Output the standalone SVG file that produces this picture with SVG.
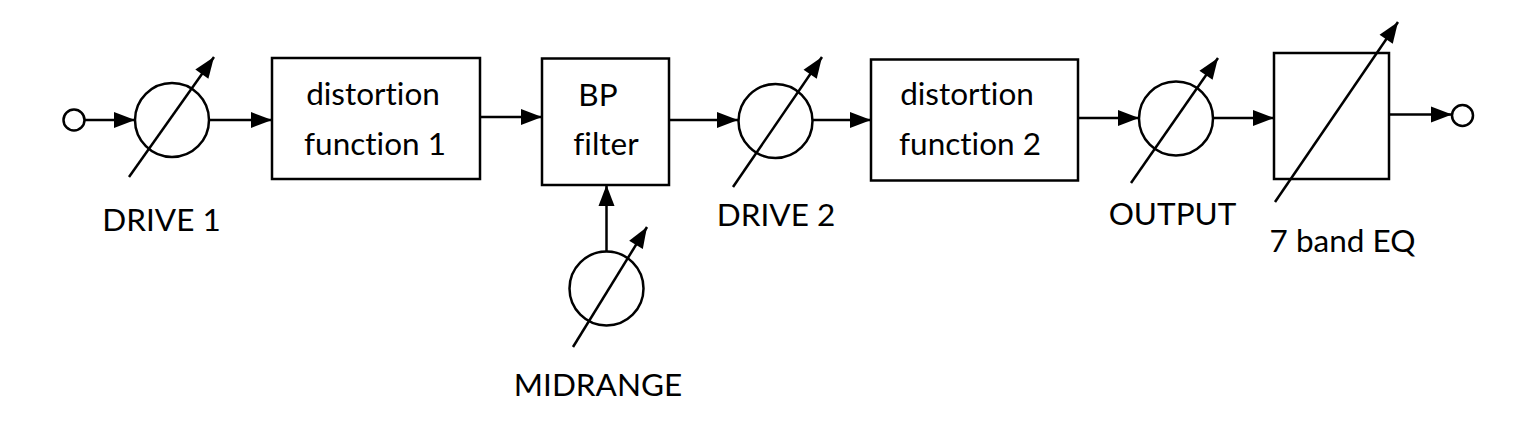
<svg xmlns="http://www.w3.org/2000/svg" width="1532" height="434" viewBox="0 0 1532 434">
  <style>
    .shape { fill: #ffffff; stroke: #000000; stroke-width: 2.5; }
    .wire { fill: none; stroke: #000000; stroke-width: 2.5; }
    .lbl { font-family: Lato, "Liberation Sans", sans-serif; font-size: 31.5px; fill: #000000; text-anchor: middle; font-variant-ligatures: none; font-feature-settings: "liga" 0, "clig" 0; }
  </style>
  <defs>
    <marker id="ah" markerUnits="userSpaceOnUse" markerWidth="23" markerHeight="17" refX="21" refY="8" orient="auto" overflow="visible">
      <path d="M0,0 L21,8 L0,16 Z" fill="#000000"/>
    </marker>
  </defs>
  <rect width="1532" height="434" fill="#ffffff"/>

  <g id="connectors">
    <path class="wire" d="M84.5,120 H135" marker-end="url(#ah)"/>
    <path class="wire" d="M209,120 H272" marker-end="url(#ah)"/>
    <path class="wire" d="M480,117 H542" marker-end="url(#ah)"/>
    <path class="wire" d="M669,120 H738" marker-end="url(#ah)"/>
    <path class="wire" d="M813,120 H871" marker-end="url(#ah)"/>
    <path class="wire" d="M1078,118 H1139" marker-end="url(#ah)"/>
    <path class="wire" d="M1213,118 H1274" marker-end="url(#ah)"/>
    <path class="wire" d="M1389,114.5 H1452" marker-end="url(#ah)"/>
    <path class="wire" d="M606.5,251 V185" marker-end="url(#ah)"/>
  </g>

  <g id="input">
    <circle class="shape" cx="74" cy="120" r="10.5"/>
  </g>

  <g id="drive1">
    <circle class="shape" cx="172" cy="120" r="37"/>
    <path class="wire" d="M129,177 L214,57" marker-end="url(#ah)"/>
    <text class="lbl" x="161.5" y="231">DRIVE 1</text>
  </g>

  <g id="distortion1">
    <rect class="shape" x="272" y="58" width="208" height="121"/>
    <text class="lbl" x="373" y="105">distortion</text>
    <text class="lbl" x="375" y="155">function 1</text>
  </g>

  <g id="bpfilter">
    <rect class="shape" x="542" y="58.5" width="127" height="126.5"/>
    <text class="lbl" x="598" y="106">BP</text>
    <text class="lbl" x="606" y="155">filter</text>
  </g>

  <g id="midrange">
    <circle class="shape" cx="606.5" cy="288.5" r="37"/>
    <path class="wire" d="M573,347 L647,227" marker-end="url(#ah)"/>
    <text class="lbl" x="598" y="396">MIDRANGE</text>
  </g>

  <g id="drive2">
    <circle class="shape" cx="775.5" cy="121" r="37"/>
    <path class="wire" d="M733,187 L822,57" marker-end="url(#ah)"/>
    <text class="lbl" x="776" y="226">DRIVE 2</text>
  </g>

  <g id="distortion2">
    <rect class="shape" x="871" y="59.5" width="207" height="121"/>
    <text class="lbl" x="967" y="105">distortion</text>
    <text class="lbl" x="970" y="155">function 2</text>
  </g>

  <g id="output">
    <circle class="shape" cx="1176" cy="118.5" r="37"/>
    <path class="wire" d="M1131,183 L1218,58" marker-end="url(#ah)"/>
    <text class="lbl" x="1172.5" y="225">OUTPUT</text>
  </g>

  <g id="eq">
    <rect class="shape" x="1274" y="53" width="115" height="126"/>
    <path class="wire" d="M1275,202 L1398,22" marker-end="url(#ah)"/>
    <text class="lbl" x="1342.5" y="252">7 band EQ</text>
  </g>

  <g id="outterm">
    <circle class="shape" cx="1462.5" cy="115.5" r="10.5"/>
  </g>
</svg>
